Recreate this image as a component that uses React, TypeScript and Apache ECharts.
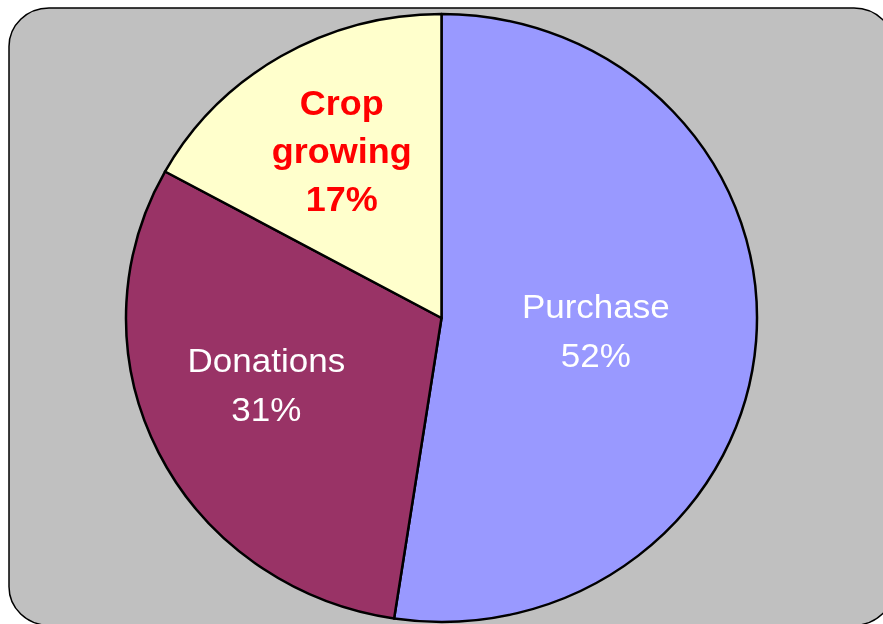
import React, { useEffect, useRef } from "react";
import * as echarts from "echarts";

// Data
const categories = ["Purchase", "Donations", "Crop growing"];
const shares = [52.4, 30.6, 17.0];

// Styling
const sliceColors = ["#9999FF", "#993366", "#FFFFCC"];
const S = 304 / 315.5; // vertical squash: the reference pie is slightly elliptical
const W = 883;
const H = Math.round(624 / S);
const labelShift: [number, number][] = [
  [-6, 1],
  [-31, -2],
  [-18, -35],
];

export default function App() {
  const ref = useRef<HTMLDivElement>(null);
  useEffect(() => {
    if (!ref.current) return;
    const chart = echarts.init(ref.current, null, { renderer: "svg" });
    const data = categories.map((name, i) => ({
      name,
      value: shares[i],
      itemStyle: { color: sliceColors[i] },
      label:
        i === 2
          ? {
              color: "#FF0000",
              fontWeight: "bold",
              fontSize: 36,
              lineHeight: 50,
            }
          : {
              color: "#FFFFFF",
              fontWeight: "normal",
              fontSize: 35,
              lineHeight: 51,
            },
    }));
    chart.setOption({
      animation: false,
      backgroundColor: "transparent",
      graphic: [
        {
          type: "rect",
          z: 0,
          shape: { x: 9, y: 8 / S, width: 885, height: 649 - 8 / S, r: 40 },
          style: { fill: "#C0C0C0", stroke: "#000000", lineWidth: 1.5 },
        },
      ],
      series: [
        {
          type: "pie",
          z: 2,
          center: [441.5, 318 / S],
          radius: 315.5,
          startAngle: 90,
          clockwise: true,
          silent: true,
          percentPrecision: 0,
          emphasis: { disabled: true },
          itemStyle: { borderColor: "#000000", borderWidth: 2.5 },
          labelLine: { show: false },
          label: {
            show: true,
            position: "inside",
            fontFamily: "'Liberation Sans', Arial, sans-serif",
            align: "center",
            formatter: (p: any) => `${String(p.name).replace(" ", "\n")}\n${p.percent}%`,
          },
          labelLayout: (p: any) => ({
            dx: labelShift[p.dataIndex][0],
            dy: labelShift[p.dataIndex][1],
          }),
          data,
        },
      ],
    });
    return () => chart.dispose();
  }, []);
  return (
    <div
      ref={ref}
      style={{
        position: "fixed",
        left: 0,
        top: 0,
        width: W,
        height: H,
        transform: `scaleY(${S})`,
        transformOrigin: "0 0",
      }}
    />
  );
}
